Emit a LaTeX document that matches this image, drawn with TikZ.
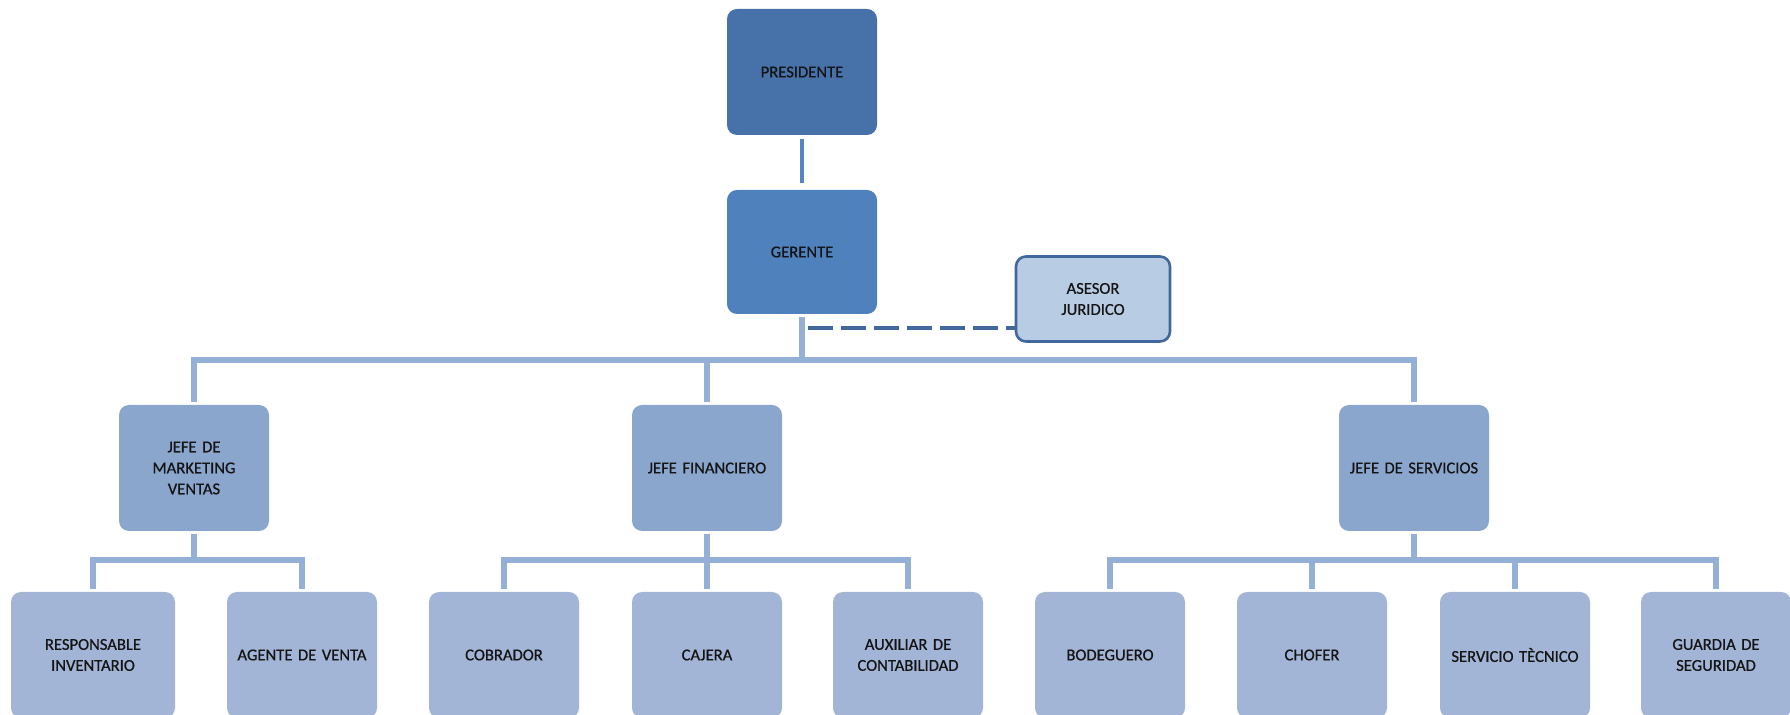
\documentclass[tikz,border=0pt]{standalone}
\usepackage{fontspec}
\setmainfont{Carlito}
\newfontfamily\boxfont[FakeBold=0.7]{Carlito}
\begin{document}
\begin{tikzpicture}[x=0.5pt,y=-0.5pt,
  box/.style={rounded corners=5pt, inner sep=1pt, align=center, text=black!92,
    font=\boxfont\fontsize{8.3pt}{10.5pt}\selectfont, minimum width=75pt, minimum height=63pt, text width=73pt},
  topbox/.style={box, fill=presc},
  gerbox/.style={box, fill=gerc},
  jefebox/.style={box, fill=jefec},
  leafbox/.style={box, fill=leafc},
  asesbox/.style={box, fill=asesc, draw=asesd, line width=1.3pt, minimum width=77pt, minimum height=42.5pt, text width=75pt},
  topline/.style={draw=topl, line width=2.4pt},
  busline/.style={draw=busl, line width=2.6pt},
  gap/.style={shorten <=1.5pt, shorten >=1.5pt},
  dashline/.style={draw=asesd, line width=2pt, dash pattern=on 12.5pt off 4pt}
]
\definecolor{presc}{HTML}{4672A9}
\definecolor{gerc}{HTML}{4F81BD}
\definecolor{jefec}{HTML}{8BA6CD}
\definecolor{leafc}{HTML}{A2B5D6}
\definecolor{asesc}{HTML}{B8CCE4}
\definecolor{asesd}{HTML}{41679C}
\definecolor{topl}{HTML}{5285C2}
\definecolor{busl}{HTML}{95B0D6}
\useasboundingbox (0,0) rectangle (1790,715);
\clip (0,0) rectangle (1790,715);

\node[topbox] (pres) at (802,72) {PRESIDENTE};
\node[gerbox, minimum height=62pt] (ger) at (802,252) {GERENTE};
\node[asesbox] (ases) at (1093,299) {ASESOR\\JURIDICO};

\node[jefebox] (jm) at (194,468) {JEFE DE\\MARKETING\\VENTAS};
\node[jefebox] (jf) at (707,468) {JEFE FINANCIERO};
\node[jefebox] (js) at (1414,468) {JEFE DE SERVICIOS};

\node[leafbox, minimum width=82pt, text width=80pt] (l1) at (93,655) {RESPONSABLE\\INVENTARIO};
\node[leafbox] (l2) at (302,655) {AGENTE DE VENTA};
\node[leafbox] (l3) at (504,655) {COBRADOR};
\node[leafbox] (l4) at (707,655) {CAJERA};
\node[leafbox] (l5) at (908,655) {AUXILIAR DE\\CONTABILIDAD};
\node[leafbox] (l6) at (1110,655) {BODEGUERO};
\node[leafbox] (l7) at (1312,655) {CHOFER};
\node[leafbox] (l8) at (1515,655) {SERVICIO TÈCNICO};
\node[leafbox] (l9) at (1716,655) {GUARDIA DE\\SEGURIDAD};

% president to manager
\draw[topline, shorten <=2pt, shorten >=3.5pt] (pres.south) -- (ger.north);

% main bus
\coordinate (b0) at (802,360);
\draw[busline, shorten >=1.5pt] (b0) -- (ger.south);
\draw[busline, gap] (jm.north) |- (b0) -| (js.north);
\draw[busline, shorten <=1.5pt] (jf.north) -- (jf.north |- b0);

% dashed line to asesor
\coordinate (d0) at (808,328);
\draw[dashline] (d0) -- (d0 -| ases.west);

% marketing sub bus
\coordinate (m0) at (194,560);
\draw[busline, shorten <=1.5pt] (jm.south) -- (m0);
\draw[busline, gap] (l1.north) |- (m0) -| (l2.north);

% financiero sub bus
\coordinate (f0) at (707,560);
\draw[busline, gap] (jf.south) -- (l4.north);
\draw[busline, gap] (l3.north) |- (f0) -| (l5.north);

% servicios sub bus
\coordinate (s0) at (1414,560);
\draw[busline, shorten <=1.5pt] (js.south) -- (s0);
\draw[busline, gap] (l6.north) |- (s0) -| (l9.north);
\draw[busline, shorten <=1.5pt] (l7.north) -- (l7.north |- s0);
\draw[busline, shorten <=1.5pt] (l8.north) -- (l8.north |- s0);
\end{tikzpicture}
\end{document}
